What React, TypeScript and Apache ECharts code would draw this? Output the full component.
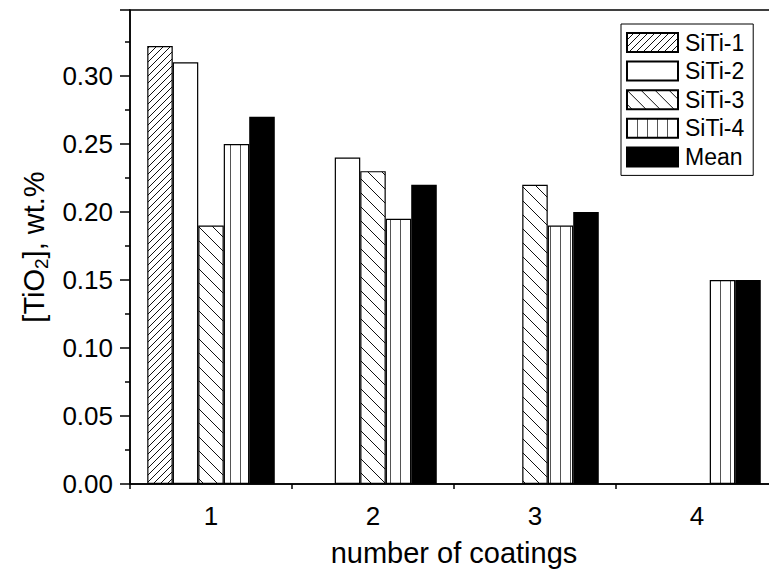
import React, { useEffect, useRef } from "react";
import * as echarts from "echarts";

const categories = ["1", "2", "3", "4"];
const seriesNames = ["SiTi-1", "SiTi-2", "SiTi-3", "SiTi-4", "Mean"];
const siti1 = [0.322, null, null, null];
const siti2 = [0.31, 0.24, null, null];
const siti3 = [0.19, 0.23, 0.22, null];
const siti4 = [0.25, 0.195, 0.19, 0.15];
const meanVals = [0.27, 0.22, 0.2, 0.15];
const yTicks = [0, 0.05, 0.1, 0.15, 0.2, 0.25, 0.3];

const FONT = "'Liberation Sans', Arial, Helvetica, sans-serif";

function makePattern(kind: string) {
  const c = document.createElement("canvas");
  let w = 8, h = 8;
  if (kind === "fwd") { w = 7; h = 7; }
  if (kind === "back") { w = 14; h = 14; }
  if (kind === "vert") { w = 10; h = 10; }
  c.width = w; c.height = h;
  const ctx = c.getContext("2d")!;
  ctx.fillStyle = "#fff";
  ctx.fillRect(0, 0, w, h);
  ctx.strokeStyle = kind === "vert" ? "#555" : "#111";
  ctx.lineWidth = 1;
  ctx.beginPath();
  if (kind === "fwd") {
    for (const k of [-w, 0, w]) {
      ctx.moveTo(k, h);
      ctx.lineTo(k + w, 0);
    }
  } else if (kind === "back") {
    for (const k of [-w, 0, w]) {
      ctx.moveTo(k, 0);
      ctx.lineTo(k + w, h);
    }
  } else if (kind === "vert") {
    ctx.moveTo(0.5, 0);
    ctx.lineTo(0.5, h);
  }
  ctx.stroke();
  return { image: c, repeat: "repeat", imageWidth: w, imageHeight: h } as any;
}

export default function App() {
  const ref = useRef<HTMLDivElement>(null);
  useEffect(() => {
    if (!ref.current) return;
    const chart = echarts.init(ref.current, undefined, { renderer: "svg" });
    const fills = [makePattern("fwd"), "#fff", makePattern("back"), makePattern("vert"), "#000"];
    const datas = [siti1, siti2, siti3, siti4, meanVals];
    const isTick = (v: number) => yTicks.some((t) => Math.abs(t - v) < 1e-6);
    chart.setOption({
      animation: false,
      backgroundColor: "#fff",
      textStyle: { fontFamily: FONT, color: "#000" },
      grid: {
        left: 130,
        right: 22,
        top: 10,
        bottom: 103,
        show: true,
        borderColor: "#000",
        borderWidth: 1.5,
        backgroundColor: "transparent",
      },
      legend: {
        orient: "vertical",
        left: 621,
        top: 24,
        itemWidth: 51,
        itemHeight: 19,
        itemGap: 5.6,
        padding: [7, 9, 7, 5],
        borderColor: "#000",
        borderWidth: 1,
        selectedMode: false,
        icon: "rect",
        textStyle: { fontSize: 23, color: "#000", fontFamily: FONT, padding: [0, 0, 0, 2] },
        data: seriesNames,
      },
      xAxis: [
        {
          type: "category",
          data: categories,
          name: "number of coatings",
          nameLocation: "middle",
          nameGap: 54,
          nameTextStyle: { fontSize: 29, color: "#000", fontFamily: FONT },
          axisLine: { lineStyle: { color: "#000", width: 1.5 } },
          axisTick: { alignWithLabel: true, length: 9, lineStyle: { color: "#000", width: 1.5 } },
          axisLabel: { fontSize: 26, color: "#000", margin: 19, fontFamily: FONT },
          splitLine: { show: false },
        },
        {
          type: "category",
          data: categories,
          position: "bottom",
          axisLine: { show: false },
          axisTick: { show: true, length: 5, lineStyle: { color: "#000", width: 1.5 } },
          axisLabel: { show: false },
          splitLine: { show: false },
        },
      ],
      yAxis: {
        type: "value",
        min: 0,
        max: 0.3485,
        interval: 0.05,
        name: "[TiO{sub|2}], wt.%",
        nameLocation: "middle",
        nameGap: 77,
        nameTextStyle: {
          fontSize: 29,
          color: "#000",
          fontFamily: FONT,
          rich: { sub: { fontSize: 19, fontFamily: FONT, color: "#000", padding: [16, 0, 0, 0] } },
        },
        axisLine: { show: true, lineStyle: { color: "#000", width: 1.5 } },
        axisTick: { show: true, length: 10, lineStyle: { color: "#000", width: 1.5 } },
        minorTick: { show: true, splitNumber: 2, length: 5, lineStyle: { color: "#000", width: 1.5 } },
        axisLabel: {
          fontSize: 26,
          color: "#000",
          margin: 17,
          fontFamily: FONT,
          formatter: (v: number) => (isTick(v) ? v.toFixed(2) : ""),
        },
        splitLine: { show: false },
        minorSplitLine: { show: false },
      },
      series: seriesNames.map((name, i) => ({
        name,
        type: "bar",
        data: datas[i],
        barWidth: 25.5,
        barGap: "0%",
        itemStyle: { color: fills[i], borderColor: "#000", borderWidth: 1.2 },
        emphasis: { disabled: true },
      })),
    });
    return () => chart.dispose();
  }, []);
  return (
    <div
      style={{
        position: "fixed",
        left: 0,
        top: 0,
        width: 769,
        height: 587,
        overflow: "hidden",
        background: "#fff",
      }}
    >
      <div ref={ref} style={{ width: 800, height: 587 }} />
    </div>
  );
}
